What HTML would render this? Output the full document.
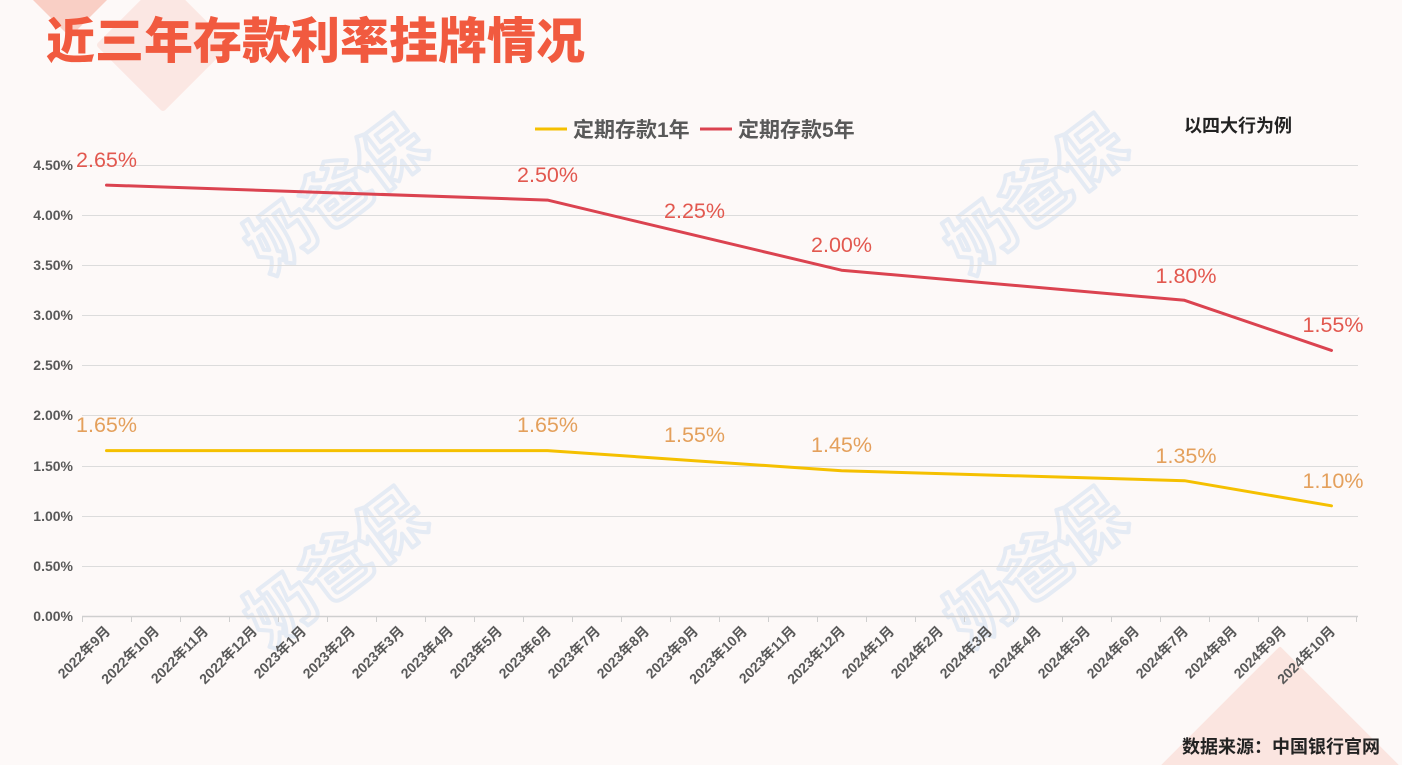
<!DOCTYPE html>
<html><head><meta charset="utf-8"><style>
html,body{margin:0;padding:0;background:#fdf9f8;}
svg{display:block;}
text{font-family:"Liberation Sans","Noto Sans CJK SC",sans-serif;}
</style></head><body>
<svg width="1402" height="765" viewBox="0 0 1402 765" xmlns="http://www.w3.org/2000/svg">
<rect width="1402" height="765" fill="#fdf9f8"/>
<!-- decorations -->
<polygon points="163,-18 226,45 163,108 100,45" fill="#fbe7e3" stroke="#fbe7e3" stroke-width="6" stroke-linejoin="round"/>
<polygon points="33,0 107,0 70,37" fill="#f9cfc5"/>
<polygon points="1280,649 1397,766 1163,766" fill="#fbe5e0" stroke="#fbe5e0" stroke-width="4" stroke-linejoin="round"/>
<!-- watermarks -->
<g font-size="68" font-weight="bold" fill="none" stroke="#e5ebf4" stroke-width="4" stroke-linejoin="round" text-anchor="middle">
<text transform="translate(350,214) rotate(-37)" x="0" y="0">奶爸保</text>
<text transform="translate(1050,214) rotate(-37)" x="0" y="0">奶爸保</text>
<text transform="translate(350,587) rotate(-37)" x="0" y="0">奶爸保</text>
<text transform="translate(1050,587) rotate(-37)" x="0" y="0">奶爸保</text>
</g>
<!-- title -->
<text x="46" y="58" font-size="49" font-weight="900" fill="#f15a3f">近三年存款利率挂牌情况</text>
<!-- legend -->
<line x1="535" y1="129" x2="567" y2="129" stroke="#f5c000" stroke-width="3"/>
<text x="573" y="137" font-size="21" font-weight="bold" fill="#595959">定期存款1年</text>
<line x1="700" y1="129" x2="732" y2="129" stroke="#db4350" stroke-width="3"/>
<text x="738" y="137" font-size="21" font-weight="bold" fill="#595959">定期存款5年</text>
<text x="1184" y="132" font-size="18" font-weight="bold" fill="#222">以四大行为例</text>
<!-- grid -->
<g stroke="#dcdcdc" stroke-width="1">
<line x1="82" y1="165.5" x2="1358" y2="165.5"/>
<line x1="82" y1="215.5" x2="1358" y2="215.5"/>
<line x1="82" y1="265.5" x2="1358" y2="265.5"/>
<line x1="82" y1="315.5" x2="1358" y2="315.5"/>
<line x1="82" y1="365.5" x2="1358" y2="365.5"/>
<line x1="82" y1="415.5" x2="1358" y2="415.5"/>
<line x1="82" y1="466.5" x2="1358" y2="466.5"/>
<line x1="82" y1="516.5" x2="1358" y2="516.5"/>
<line x1="82" y1="566.5" x2="1358" y2="566.5"/>
</g>
<line x1="82" y1="616.5" x2="1358" y2="616.5" stroke="#cfcfcf" stroke-width="1.5"/>
<g stroke="#cfcfcf" stroke-width="1">
<line x1="82.5" y1="616" x2="82.5" y2="622"/><line x1="131.5" y1="616" x2="131.5" y2="622"/><line x1="180.5" y1="616" x2="180.5" y2="622"/><line x1="229.5" y1="616" x2="229.5" y2="622"/><line x1="278.5" y1="616" x2="278.5" y2="622"/><line x1="327.5" y1="616" x2="327.5" y2="622"/><line x1="376.5" y1="616" x2="376.5" y2="622"/><line x1="425.5" y1="616" x2="425.5" y2="622"/><line x1="474.5" y1="616" x2="474.5" y2="622"/><line x1="523.5" y1="616" x2="523.5" y2="622"/><line x1="572.5" y1="616" x2="572.5" y2="622"/><line x1="621.5" y1="616" x2="621.5" y2="622"/><line x1="670.5" y1="616" x2="670.5" y2="622"/><line x1="719.5" y1="616" x2="719.5" y2="622"/><line x1="768.5" y1="616" x2="768.5" y2="622"/><line x1="817.5" y1="616" x2="817.5" y2="622"/><line x1="866.5" y1="616" x2="866.5" y2="622"/><line x1="915.5" y1="616" x2="915.5" y2="622"/><line x1="964.5" y1="616" x2="964.5" y2="622"/><line x1="1013.5" y1="616" x2="1013.5" y2="622"/><line x1="1062.5" y1="616" x2="1062.5" y2="622"/><line x1="1111.5" y1="616" x2="1111.5" y2="622"/><line x1="1160.5" y1="616" x2="1160.5" y2="622"/><line x1="1209.5" y1="616" x2="1209.5" y2="622"/><line x1="1258.5" y1="616" x2="1258.5" y2="622"/><line x1="1307.5" y1="616" x2="1307.5" y2="622"/><line x1="1356.5" y1="616" x2="1356.5" y2="622"/>
</g>
<!-- y labels -->
<g font-size="14" font-weight="bold" fill="#595959" text-anchor="end">
<text x="73" y="170">4.50%</text>
<text x="73" y="220">4.00%</text>
<text x="73" y="270">3.50%</text>
<text x="73" y="320">3.00%</text>
<text x="73" y="370">2.50%</text>
<text x="73" y="420">2.00%</text>
<text x="73" y="471">1.50%</text>
<text x="73" y="521">1.00%</text>
<text x="73" y="571">0.50%</text>
<text x="73" y="621">0.00%</text>
</g>
<!-- x labels -->
<g font-size="14" font-weight="bold" fill="#595959" text-anchor="end">
<text transform="translate(111,632) rotate(-45)">2022年9月</text>
<text transform="translate(160,632) rotate(-45)">2022年10月</text>
<text transform="translate(209,632) rotate(-45)">2022年11月</text>
<text transform="translate(258,632) rotate(-45)">2022年12月</text>
<text transform="translate(307,632) rotate(-45)">2023年1月</text>
<text transform="translate(356,632) rotate(-45)">2023年2月</text>
<text transform="translate(405,632) rotate(-45)">2023年3月</text>
<text transform="translate(454,632) rotate(-45)">2023年4月</text>
<text transform="translate(503,632) rotate(-45)">2023年5月</text>
<text transform="translate(552,632) rotate(-45)">2023年6月</text>
<text transform="translate(601,632) rotate(-45)">2023年7月</text>
<text transform="translate(650,632) rotate(-45)">2023年8月</text>
<text transform="translate(699,632) rotate(-45)">2023年9月</text>
<text transform="translate(748,632) rotate(-45)">2023年10月</text>
<text transform="translate(797,632) rotate(-45)">2023年11月</text>
<text transform="translate(846,632) rotate(-45)">2023年12月</text>
<text transform="translate(895,632) rotate(-45)">2024年1月</text>
<text transform="translate(944,632) rotate(-45)">2024年2月</text>
<text transform="translate(993,632) rotate(-45)">2024年3月</text>
<text transform="translate(1042,632) rotate(-45)">2024年4月</text>
<text transform="translate(1091,632) rotate(-45)">2024年5月</text>
<text transform="translate(1140,632) rotate(-45)">2024年6月</text>
<text transform="translate(1189,632) rotate(-45)">2024年7月</text>
<text transform="translate(1238,632) rotate(-45)">2024年8月</text>
<text transform="translate(1287,632) rotate(-45)">2024年9月</text>
<text transform="translate(1336,632) rotate(-45)">2024年10月</text>
</g>
<!-- series -->
<polyline points="106.5,450.6 547.5,450.6 694.5,460.7 841.5,470.7 1184.5,480.7 1331.5,505.8" fill="none" stroke="#f5c000" stroke-width="3" stroke-linejoin="round" stroke-linecap="round"/>
<polyline points="106.5,185.1 547.5,200.1 694.5,235.2 841.5,270.2 1184.5,300.3 1331.5,350.4" fill="none" stroke="#db4350" stroke-width="3" stroke-linejoin="round" stroke-linecap="round"/>
<!-- data labels -->
<g font-size="21.5" fill="#e2584f" text-anchor="middle">
<text x="106.5" y="167">2.65%</text>
<text x="547.5" y="182">2.50%</text>
<text x="694.5" y="218">2.25%</text>
<text x="841.5" y="252">2.00%</text>
<text x="1186" y="283">1.80%</text>
<text x="1333" y="332">1.55%</text>
</g>
<g font-size="21.5" fill="#e4a05c" text-anchor="middle">
<text x="106.5" y="432">1.65%</text>
<text x="547.5" y="432">1.65%</text>
<text x="694.5" y="442">1.55%</text>
<text x="841.5" y="452">1.45%</text>
<text x="1186" y="463">1.35%</text>
<text x="1333" y="488">1.10%</text>
</g>
<!-- source -->
<text x="1182" y="753" font-size="18" font-weight="bold" fill="#222">数据来源：中国银行官网</text>
</svg>
</body></html>
